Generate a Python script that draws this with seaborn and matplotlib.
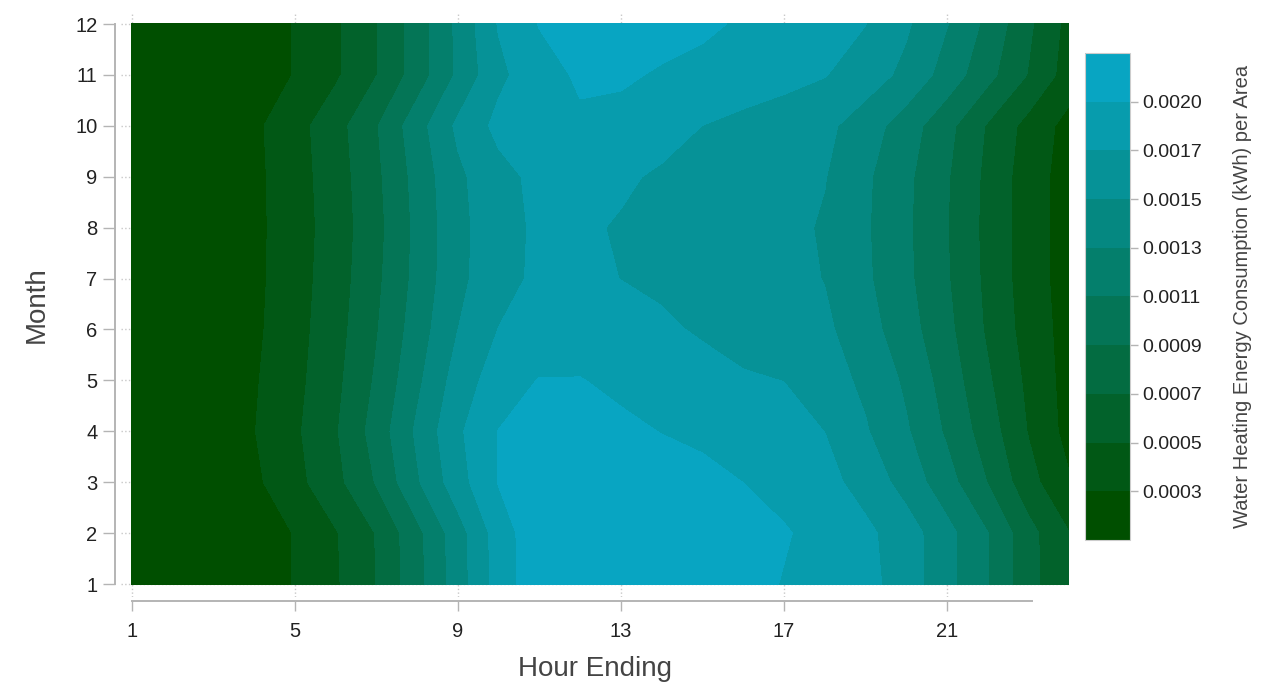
import numpy as np
import pandas as pd
import matplotlib
matplotlib.use("Agg")
import matplotlib.pyplot as plt
from matplotlib.colors import ListedColormap, BoundaryNorm
import seaborn as sns

hours = list(range(1, 25))
months = list(range(1, 13))

# water heating energy per area (units of 1e-4 kWh)
# one list per month, hour ending 1..24
jan = [2.2, 1.8, 1.7, 2.0, 3.2, 4.9, 7.25, 10.6, 14.4, 18.3, 21.0, 21.2, 21.3, 21.2, 20.9, 20.3, 19.4, 18.7, 18.1, 16.5, 14.0, 11.35, 7.9, 5.4]
feb = [2.1, 1.8, 1.7, 2.0, 3.2, 5.0, 7.3, 10.7, 14.5, 18.4, 21.0, 21.3, 21.4, 21.3, 21.0, 20.4, 19.7, 18.8, 17.9, 16.4, 14.0, 11.35, 7.9, 5.2]
mar = [2.0, 1.6, 1.6, 2.7, 4.5, 6.6, 9.4, 13.1, 16.6, 19.6, 20.5, 20.9, 20.9, 20.6, 20.2, 19.5, 18.8, 18.1, 16.7, 14.6, 12.1, 9.2, 5.9, 3.3]
apr = [1.9, 1.6, 1.6, 3.05, 4.8, 7.0, 10.1, 13.7, 17.1, 19.55, 20.3, 20.4, 20.0, 19.45, 19.0, 18.5, 18.0, 17.45, 15.6, 13.6, 11.0, 8.2, 5.05, 2.4]
may = [1.9, 1.6, 1.6, 2.9, 4.56, 6.67, 9.53, 12.9, 16.3, 18.5, 19.6, 19.6, 19.0, 18.5, 18.0, 17.6, 17.45, 16.3, 15.0, 13.0, 10.4, 7.5, 4.7, 2.3]
jun = [1.9, 1.6, 1.6, 2.7, 4.4, 6.4, 9.1, 12.3, 15.4, 17.5, 18.2, 18.3, 18.0, 17.7, 17.3, 17.0, 16.6, 15.8, 14.2, 12.15, 9.8, 6.9, 4.3, 2.3]
jul = [1.9, 1.6, 1.6, 2.6, 4.3, 6.2, 8.8, 11.9, 14.9, 16.7, 17.9, 17.8, 17.45, 17.2, 17.0, 16.6, 16.1, 15.35, 13.7, 11.75, 9.45, 6.7, 4.1, 2.2]
aug = [1.9, 1.6, 1.6, 2.6, 4.2, 6.1, 8.6, 11.8, 14.85, 16.6, 17.85, 17.75, 17.3, 17.1, 16.9, 16.5, 16.0, 15.2, 13.6, 11.65, 9.35, 6.6, 4.1, 2.2]
sep = [1.9, 1.6, 1.6, 2.6, 4.3, 6.2, 8.8, 12.0, 15.0, 16.8, 18.0, 18.1, 17.75, 17.2, 17.0, 16.6, 16.2, 15.5, 13.7, 11.75, 9.45, 6.7, 4.1, 2.2]
octo = [1.9, 1.6, 1.6, 2.7, 4.4, 6.4, 9.1, 12.5, 15.8, 18.0, 18.9, 19.2, 18.9, 18.2, 17.45, 17.0, 16.6, 15.9, 14.4, 12.3, 9.9, 7.0, 4.45, 2.4]
nov = [2.2, 1.8, 1.7, 2.0, 3.2, 4.85, 7.15, 10.2, 13.7, 17.0, 18.7, 19.8, 19.8, 19.3, 18.9, 18.4, 18.0, 17.55, 16.4, 14.9, 12.5, 9.9, 7.1, 4.2]
dec = [2.2, 1.8, 1.7, 2.0, 3.2, 4.85, 7.15, 10.2, 13.8, 17.6, 19.6, 20.2, 20.4, 20.3, 19.9, 19.25, 18.7, 18.1, 17.5, 15.7, 13.45, 10.8, 7.6, 4.5]

df = pd.DataFrame([jan, feb, mar, apr, may, jun, jul, aug, sep, octo, nov, dec],
                  index=months, columns=hours) * 1e-4

# contour levels (colorbar boundaries)
levels = 0.000107 + 0.000205 * np.arange(11)

sns.set_theme(style="white")
plt.rcParams['font.family'] = ['Liberation Sans', 'DejaVu Sans']

band_colors = sns.blend_palette(["#004f00", "#08a5c2"], n_colors=10)
cmap = ListedColormap(band_colors)
norm = BoundaryNorm(levels, cmap.N)

W, H = 1267, 688
fig = plt.figure(figsize=(W / 100, H / 100), dpi=100)
ax = fig.add_axes([121 / W, 1 - 597 / H, (1069 - 121) / W, (597 - 12) / H])

cs = ax.contourf(df.columns.values, df.index.values, df.values,
                 levels=levels, cmap=cmap, norm=norm, zorder=2)
cs.set_edgecolor('face')
cs.set_linewidth(0.4)

ax.set_xlim(0.73, 24)
ax.set_ylim(0.745, 12.236)
ax.set_xticks([1, 5, 9, 13, 17, 21])
ax.set_yticks(months)
ax.grid(True, linestyle=':', color='#c8c8c8', linewidth=1)
ax.set_axisbelow(True)

for s in ['top', 'right']:
    ax.spines[s].set_visible(False)
ax.spines['left'].set_position(('outward', 4))
ax.spines['left'].set_bounds(1, 12)
ax.spines['bottom'].set_position(('outward', 3))
ax.spines['bottom'].set_bounds(1, 23.1)
for s in ['left', 'bottom']:
    ax.spines[s].set_color('#b4b4b4')
    ax.spines[s].set_linewidth(1.4)

ax.tick_params(axis='y', length=9, width=1, color='#b4b4b4', labelsize=14.5,
               labelcolor='#222222', pad=4, left=True)
ax.tick_params(axis='x', length=7, width=1, color='#b4b4b4', labelsize=14.5,
               labelcolor='#222222', pad=8, bottom=True)
ax.set_xlabel('Hour Ending', fontsize=20, color='#444444', labelpad=11)
ax.set_ylabel('Month', fontsize=20, color='#444444', labelpad=18)

cax = fig.add_axes([1085 / W, 1 - 540 / H, 45 / W, 487 / H])
cb = fig.colorbar(cs, cax=cax, ticks=levels[1:-1])
cb.ax.minorticks_off()
cb.ax.set_yticklabels([f'{v:.4f}' for v in levels[1:-1]])
cb.outline.set_edgecolor('#cccccc')
cb.outline.set_linewidth(0.8)
cb.ax.tick_params(length=6, width=1, color='#b4b4b4', labelsize=14,
                  labelcolor='#222222', pad=3)
cb.set_label('Water Heating Energy Consumption (kWh) per Area',
             fontsize=14.5, color='#444444', labelpad=22)

fig.savefig('out.png', dpi=100)
